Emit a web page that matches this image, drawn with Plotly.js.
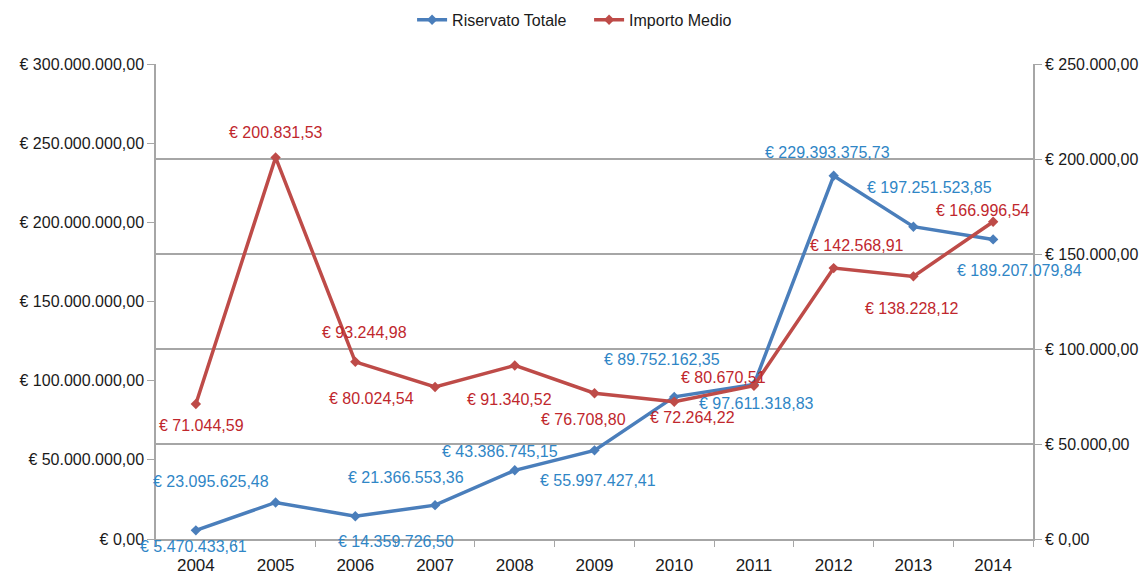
<!DOCTYPE html>
<html>
<head>
<meta charset="utf-8">
<script src="https://cdn.plot.ly/plotly-3.0.1.min.js"></script>
<style>html,body{margin:0;padding:0;background:#fff;}#chart{width:1144px;height:576px;}</style>
</head>
<body>
<div id="chart"></div>
<script>
var years = ['2004','2005','2006','2007','2008','2009','2010','2011','2012','2013','2014'];
var riservatoTotale = [5470433.61, 23095625.48, 14359726.50, 21366553.36, 43386745.15, 55997427.41, 89752162.35, 97611318.83, 229393375.73, 197251523.85, 189207079.84];
var importoMedio = [71044.59, 200831.53, 93244.98, 80024.54, 91340.52, 76708.80, 72264.22, 80670.51, 142568.91, 138228.12, 166996.54];
var seriesNames = ['Riservato Totale', 'Importo Medio'];

// label offsets (pixels) relative to each point
var blueLabelDX = [-2, -65, 41, -29, -15, 3, -12, 3, -6, 16, 26];
var blueLabelDY = [16, -21, 25, -28, -19, 30, -37, 19, -23, -39, 31];
var redLabelDX = [6, 0, 9, -64, -5, -11, 18, -30, 23, -1, -10];
var redLabelDY = [21, -25, -29, 12, 34, 26, 16, -8, -23, 32, -11];

var FONT = 'Liberation Sans, Arial, sans-serif';
var blueLine = '#4A7EBB', redLine = '#BE4B48';
var blueText = '#2F86C6', redText = '#C0272D';
var tickColor = '#1a1a1a';

function fmtEuro(v) {
  var parts = v.toFixed(2).split('.');
  var intPart = parts[0].replace(/\B(?=(\d{3})+(?!\d))/g, '.');
  return '€ ' + intPart + ',' + parts[1];
}

var traces = [
  {x: years, y: riservatoTotale, name: seriesNames[0], type: 'scatter', mode: 'lines+markers',
   yaxis: 'y', line: {color: blueLine, width: 3.5}, marker: {symbol: 'diamond', size: 8, color: blueLine}},
  {x: years, y: importoMedio, name: seriesNames[1], type: 'scatter', mode: 'lines+markers',
   yaxis: 'y2', line: {color: redLine, width: 3.5}, marker: {symbol: 'diamond', size: 8, color: redLine}}
];

var annotations = [];
for (var i = 0; i < years.length; i++) {
  annotations.push({x: i, y: riservatoTotale[i], xref: 'x', yref: 'y', text: fmtEuro(riservatoTotale[i]),
    showarrow: false, xshift: blueLabelDX[i], yshift: -blueLabelDY[i], xanchor: 'center', yanchor: 'middle',
    font: {family: FONT, size: 16, color: blueText}});
  annotations.push({x: i, y: importoMedio[i], xref: 'x', yref: 'y2', text: fmtEuro(importoMedio[i]),
    showarrow: false, xshift: redLabelDX[i], yshift: -redLabelDY[i], xanchor: 'center', yanchor: 'middle',
    font: {family: FONT, size: 16, color: redText}});
}

var axisGray = '#A6A6A6';
var layout = {
  width: 1144, height: 576,
  margin: {l: 156, r: 111, t: 64, b: 37, autoexpand: false},
  paper_bgcolor: '#fff', plot_bgcolor: '#fff',
  separators: ',.',
  font: {family: FONT, size: 16, color: tickColor},
  showlegend: true,
  legend: {orientation: 'h', x: 0.292, xanchor: 'left', y: 1.093, yanchor: 'middle',
           entrywidth: 132, entrywidthmode: 'pixels',
           font: {family: FONT, size: 16, color: tickColor}},
  xaxis: {type: 'category', range: [-0.5, 10.5], showline: true, linecolor: axisGray, linewidth: 1.5,
          ticks: 'outside', tickson: 'boundaries', ticklen: 6, tickcolor: axisGray, showgrid: false,
          ticklabelstandoff: 10, tickfont: {family: FONT, size: 17, color: tickColor}},
  yaxis: {range: [0, 300000000], dtick: 50000000, tick0: 0, showgrid: false, zeroline: false,
          showline: true, linecolor: axisGray, linewidth: 1.5, ticks: 'outside', ticklen: 7, tickcolor: axisGray,
          tickformat: ',.2f', tickprefix: '€ ', tickfont: {family: FONT, size: 16, color: tickColor}},
  yaxis2: {range: [0, 250000], dtick: 50000, tick0: 0, overlaying: 'y', side: 'right',
           showgrid: true, gridcolor: axisGray, gridwidth: 1.5, zeroline: false,
           showline: true, linecolor: axisGray, linewidth: 1.5, ticks: 'outside', ticklen: 7, tickcolor: axisGray,
           tickformat: ',.2f', tickprefix: '€ ', tickfont: {family: FONT, size: 16, color: tickColor}},
  annotations: annotations
};

Plotly.newPlot('chart', traces, layout, {displayModeBar: false});
</script>
</body>
</html>
